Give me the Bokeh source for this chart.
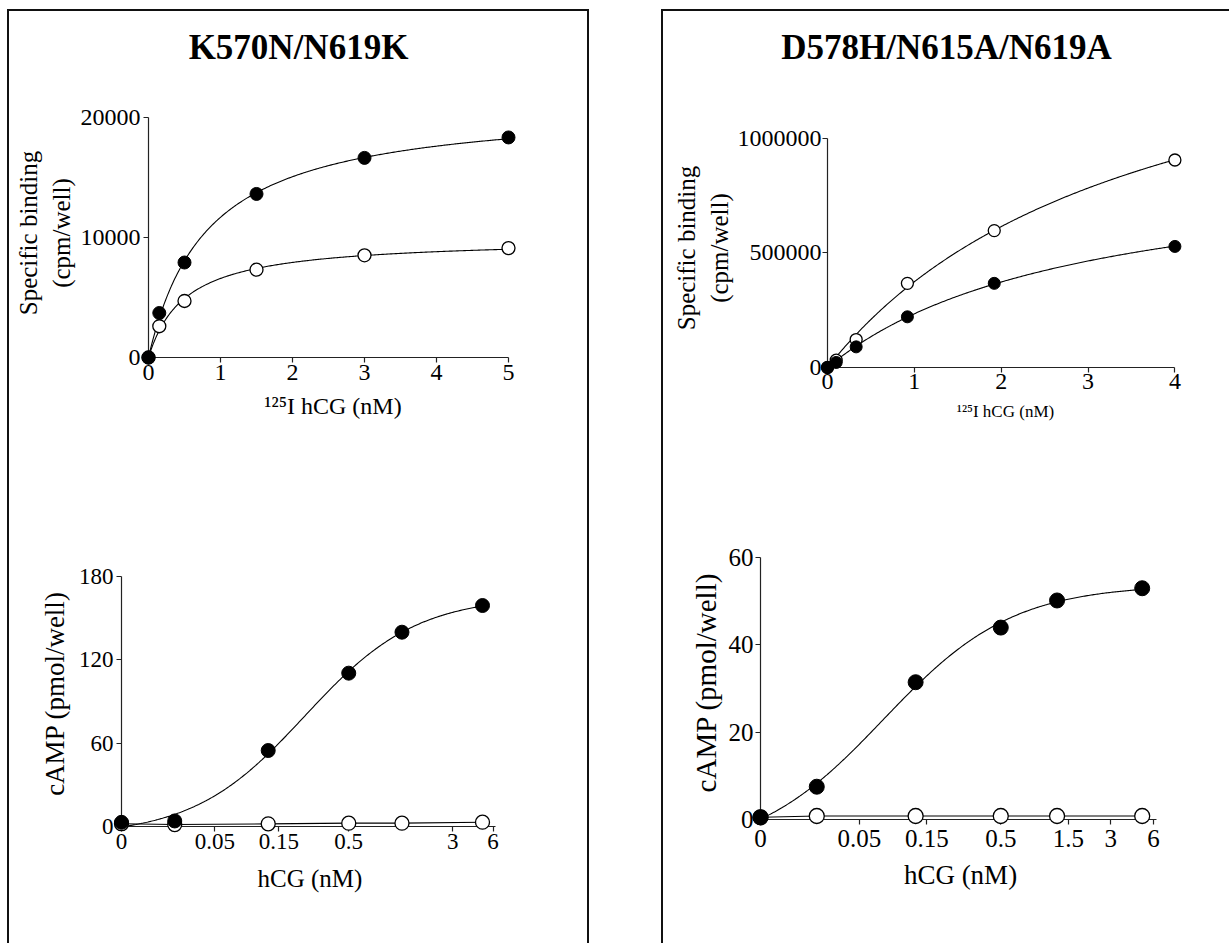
import numpy as np
from bokeh.plotting import figure
from bokeh.models import Range1d, FixedTicker
from bokeh.layouts import column, row
from bokeh.embed import file_html
from bokeh.resources import INLINE

FONT = "Liberation Serif"

# ---------------- data ----------------
title_left = "K570N/N619K"
title_right = "D578H/N615A/N619A"

bind_L_x = [0, 0.15, 0.5, 1.5, 3, 5]
bind_L_filled = [0, 3700, 7900, 13600, 16600, 18300]
bind_L_open = [0, 2600, 4700, 7300, 8500, 9100]
bind_L_xticks = [0, 1, 2, 3, 4, 5]
bind_L_yticks = [0, 10000, 20000]

bind_R_x = [0, 0.1, 0.33, 0.92, 1.92, 4]
bind_R_filled = [0, 22000, 90000, 221000, 367000, 528000]
bind_R_open = [0, 32000, 122000, 367000, 597000, 905000]
bind_R_xticks = [0, 1, 2, 3, 4]
bind_R_yticks = [0, 500000, 1000000]

camp_dose = [0, 0.025, 0.125, 0.5, 1.25, 5]
camp_L_filled = [3, 4, 54.7, 110.4, 139.9, 159.1]
camp_L_open = [2, 1.4, 1.9, 2.4, 2.4, 3.1]
camp_R_filled = [0.5, 7.5, 31.4, 43.9, 50.1, 52.9]
camp_R_open = [0.5, 0.8, 0.8, 0.8, 0.8, 0.8]
camp_L_xticks = [0, 0.05, 0.15, 0.5, 3, 6]
camp_R_xticks = [0, 0.05, 0.15, 0.5, 1.5, 3, 6]
camp_L_yticks = [0, 60, 120, 180]
camp_R_yticks = [0, 20, 40, 60]
ZERO_DOSE_POS = 0.01   # where the "0" dose sits on the log axis
DOSE_AXIS_END = 6.3


def fmt(v):
    return str(int(v)) if float(v).is_integer() else f"{v:g}"


# ---------------- curve fits (derived from the data) ----------------
def fit_hyperbola(x, y):
    x = np.asarray(x, float)
    y = np.asarray(y, float)
    kds = np.linspace(0.02, 15, 3000)
    F = x[None, :] / (kds[:, None] + x[None, :])
    bmax = (F @ y) / (F * F).sum(axis=1)
    sse = ((bmax[:, None] * F - y[None, :]) ** 2).sum(axis=1)
    i = int(np.argmin(sse))
    return kds[i], bmax[i]


def fit_logistic(lx, y):
    lx = np.asarray(lx, float)
    y = np.asarray(y, float)
    ecs = np.linspace(-2.5, 1.0, 351)
    hs = np.linspace(0.3, 3.0, 271)
    E, H = np.meshgrid(ecs, hs, indexing="ij")
    F = 1.0 / (1.0 + 10 ** ((E[..., None] - lx) * H[..., None]))
    fm = F.mean(-1, keepdims=True)
    ym = y.mean()
    slope = ((F - fm) * (y - ym)).sum(-1) / ((F - fm) ** 2).sum(-1)
    inter = ym - slope * fm[..., 0]
    sse = ((inter[..., None] + slope[..., None] * F - y) ** 2).sum(-1)
    i, j = np.unravel_index(np.argmin(sse), sse.shape)
    return ecs[i], hs[j], inter[i, j], slope[i, j]


# ---------------- geometry helpers ----------------
def axis_range(d0, p0, d1, p1, lo_px, hi_px, log=False):
    t = np.log10 if log else (lambda v: v)
    a0, a1 = t(d0), t(d1)
    s = (p1 - p0) / (a1 - a0)
    s_ = a0 + (lo_px - p0) / s
    e_ = a0 + (hi_px - p0) / s
    if log:
        return 10 ** s_, 10 ** e_
    return s_, e_


def no_align(p):
    if "frame_align" in p.properties():
        p.frame_align = False


def make_fig(canvas, xa, ya, frame, xlog=False):
    cx, cy, W, H = canvas
    fl, fr, ft, fb = frame
    xr = list(axis_range(*xa, fl, fr, log=xlog))
    yr = list(axis_range(*ya, fb, ft))
    xr[0] = xa[0]   # frame's left edge is the x origin
    yr[0] = ya[0]   # frame's bottom edge is the y origin
    p = figure(width=W, height=H, output_backend="svg", toolbar_location=None,
               x_axis_type="log" if xlog else "linear",
               x_range=Range1d(*xr), y_range=Range1d(*yr),
               min_border_left=fl - cx, min_border_right=cx + W - fr,
               min_border_top=ft - cy, min_border_bottom=cy + H - fb)
    p.outline_line_color = None
    p.xgrid.visible = False
    p.ygrid.visible = False
    p.background_fill_color = "white"
    p.border_fill_color = "white"
    no_align(p)
    return p


def title_fig(text, W, H, offset, top):
    p = figure(width=W, height=H, output_backend="svg", toolbar_location=None,
               x_axis_location=None, y_axis_location=None,
               min_border_left=0, min_border_right=0, min_border_top=0,
               min_border_bottom=0, x_range=Range1d(0, 1), y_range=Range1d(0, 1),
               margin=(top, 0, 0, 0))
    p.outline_line_color = None
    p.xgrid.visible = False
    p.ygrid.visible = False
    p.title.text = text
    p.title.align = "center"
    p.title.offset = offset
    p.title.text_font = FONT
    p.title.text_font_size = "35px"
    p.title.text_font_style = "bold"
    p.title.text_color = "black"
    no_align(p)
    return p


def style_axis(ax, label, label_size, tick_size, label_standoff, tick_standoff=3):
    ax.axis_label = label
    ax.axis_label_text_font = FONT
    ax.axis_label_text_font_size = f"{label_size}px"
    ax.axis_label_text_font_style = "normal"
    ax.axis_label_text_color = "black"
    ax.axis_label_standoff = label_standoff
    ax.major_label_text_font = FONT
    ax.major_label_text_font_size = f"{tick_size}px"
    ax.major_label_text_color = "black"
    ax.major_label_standoff = tick_standoff
    ax.major_tick_out = 5
    ax.major_tick_in = 0
    ax.minor_tick_out = 0
    ax.minor_tick_in = 0
    ax.axis_line_color = "#222222"
    ax.axis_line_width = 1.2
    ax.major_tick_line_color = "#222222"
    ax.major_tick_line_width = 1.2


def set_ticks(ax, ticks, positions=None):
    pos = positions if positions is not None else ticks
    ax.ticker = FixedTicker(ticks=[float(v) for v in pos], minor_ticks=[])
    ax.major_label_overrides = {float(p_): fmt(t) for p_, t in zip(pos, ticks)}


def add_points(p, x, filled, opened, size):
    p.scatter(x, opened, size=size, fill_color="white", line_color="black",
              line_width=1.3, level="overlay")
    p.scatter(x, filled, size=size, fill_color="black", line_color="black",
              line_width=1.0, level="overlay")


# ---------------- titles ----------------
tt_l = title_fig(title_left, 578, 71, 16, 9)
tt_r = title_fig(title_right, 566, 71, 16, 9)

# ---------------- top-left: binding ----------------
tl = make_fig((9, 91, 578, 390), (0, 148, 5, 508), (0, 357, 20000, 116.5),
              (148, 517, 108, 357))
style_axis(tl.xaxis[0], "¹²⁵I hCG (nM)", 24, 24, 10, 2)
style_axis(tl.yaxis[0], "Specific binding\n(cpm/well)", 25, 24, 3, 3)
set_ticks(tl.xaxis[0], bind_L_xticks)
set_ticks(tl.yaxis[0], bind_L_yticks)
tl.xaxis.bounds = (bind_L_xticks[0], bind_L_xticks[-1])
tl.yaxis.bounds = (bind_L_yticks[0], bind_L_yticks[-1])
xc = np.linspace(0, max(bind_L_x), 300)
for ys in (bind_L_open, bind_L_filled):
    kd, bm = fit_hyperbola(bind_L_x, ys)
    tl.line(xc, bm * xc / (kd + xc), line_color="black", line_width=1.1)
add_points(tl, bind_L_x, bind_L_filled, bind_L_open, 13)

# ---------------- top-right: binding ----------------
tr = make_fig((663, 91, 566, 390), (0, 827, 4, 1174.4), (0, 367, 1000000, 137.7),
              (827, 1183, 128, 367))
style_axis(tr.xaxis[0], "¹²⁵I hCG (nM)", 17, 24, 10, 1)
style_axis(tr.yaxis[0], "Specific binding\n(cpm/well)", 25, 24, 2, 1)
set_ticks(tr.xaxis[0], bind_R_xticks)
set_ticks(tr.yaxis[0], bind_R_yticks)
tr.xaxis.bounds = (bind_R_xticks[0], bind_R_xticks[-1])
tr.yaxis.bounds = (bind_R_yticks[0], bind_R_yticks[-1])
xc = np.linspace(0, max(bind_R_x), 300)
for ys in (bind_R_open, bind_R_filled):
    kd, bm = fit_hyperbola(bind_R_x, ys)
    tr.line(xc, bm * xc / (kd + xc), line_color="black", line_width=1.1)
add_points(tr, bind_R_x, bind_R_filled, bind_R_open, 12)

# ---------------- dose positions on the log axis ----------------
dose_pos = [d if d > 0 else ZERO_DOSE_POS for d in camp_dose]
lx = np.log10(dose_pos)
xc = np.logspace(np.log10(ZERO_DOSE_POS), np.log10(max(camp_dose)), 300)


def camp_panel(canvas, xa, ya, frame, filled, opened, xticks, yticks, size,
               lab_size, tick_size, ylab_size, xstand, xlstand, ystand, ylstand):
    p = make_fig(canvas, xa, ya, frame, xlog=True)
    style_axis(p.xaxis[0], "hCG (nM)", lab_size, tick_size, xlstand, xstand)
    style_axis(p.yaxis[0], "cAMP (pmol/well)", ylab_size, tick_size, ylstand, ystand)
    pos = [t if t > 0 else ZERO_DOSE_POS for t in xticks]
    set_ticks(p.xaxis[0], xticks, pos)
    set_ticks(p.yaxis[0], yticks)
    p.xaxis.bounds = (ZERO_DOSE_POS, DOSE_AXIS_END)
    p.yaxis.bounds = (yticks[0], yticks[-1])
    ec, h, b, a = fit_logistic(lx, filled)
    p.line(xc, b + a / (1 + 10 ** ((ec - np.log10(xc)) * h)),
           line_color="black", line_width=1.1)
    p.line(dose_pos, opened, line_color="black", line_width=1.1)
    add_points(p, dose_pos, filled, opened, size)
    return p


bl = camp_panel((9, 481, 578, 462), (ZERO_DOSE_POS, 121, 5, 482),
                (0, 826, 180, 576), (121, 498, 560, 826),
                camp_L_filled, camp_L_open, camp_L_xticks, camp_L_yticks, 14,
                25, 23, 27, 2, 13, 3, 6)
br = camp_panel((663, 481, 566, 462), (ZERO_DOSE_POS, 760, 5, 1141.7),
                (0, 819, 60, 556.7), (760, 1160, 545, 819),
                camp_R_filled, camp_R_open, camp_R_xticks, camp_R_yticks, 15,
                27, 25, 29, 5, 10, 2, 4)

left = column(tt_l, tl, bl, margin=(9, 0, 0, 7),
              styles={"border-top": "2px solid #111", "border-left": "2px solid #111",
                      "border-right": "2px solid #111"})
right = column(tt_r, tr, br, margin=(9, 0, 0, 72),
               styles={"border-top": "2px solid #111", "border-left": "2px solid #111"})
page = row(left, right)

open("out.html", "w").write(file_html(page, INLINE))
